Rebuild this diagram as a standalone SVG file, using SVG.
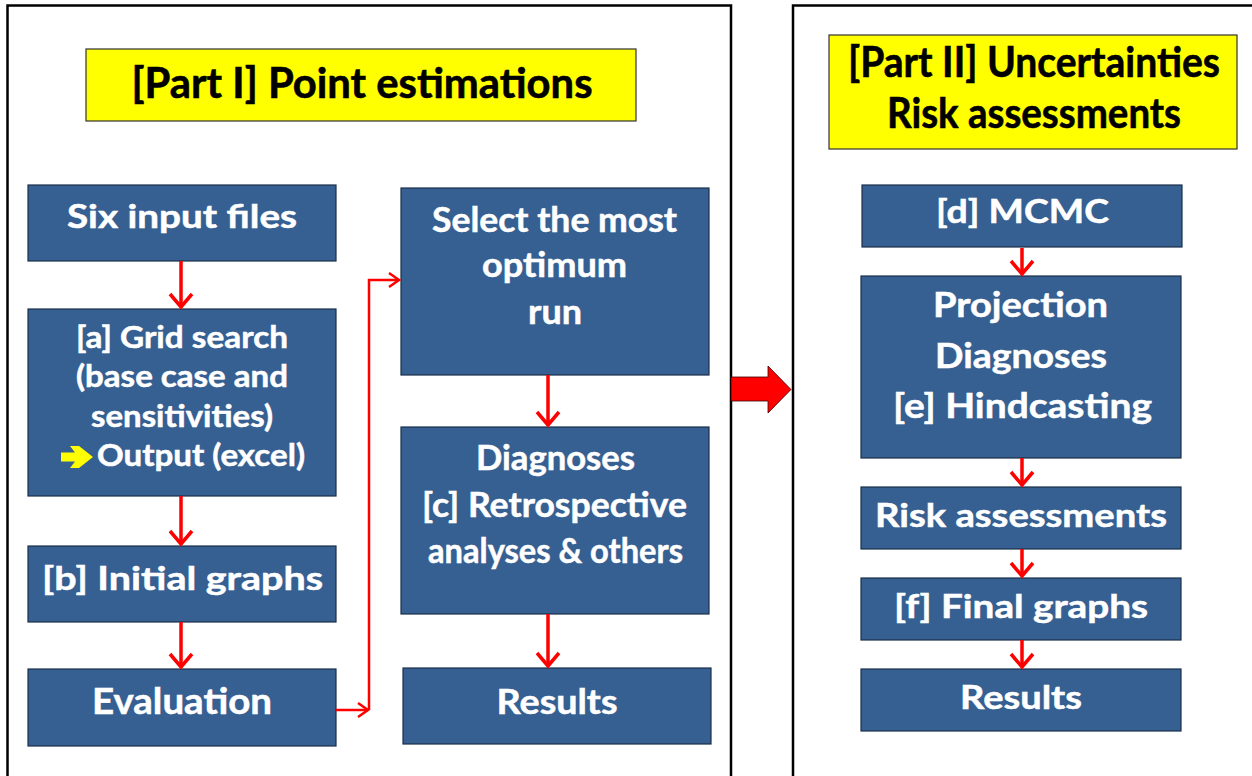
<svg xmlns="http://www.w3.org/2000/svg" width="1252" height="776" viewBox="0 0 1252 776">
<defs>
<style>
.frame{fill:none;stroke:#000;stroke-width:2.5}
.title{fill:#ffff00;stroke:#333;stroke-width:1.2}
.box{fill:#376092;stroke:#1a2f4a;stroke-width:1.2}
.tt{font-family:Lato,"Liberation Sans",sans-serif;font-weight:bold;fill:#000;text-anchor:middle;stroke:#000;stroke-width:0.6}
.bt{font-family:Lato,"Liberation Sans",sans-serif;font-weight:bold;fill:#fff;text-anchor:middle;stroke:#fff;stroke-width:0.5}
.con{fill:none;stroke:#ff0000;stroke-width:3.5}
.thin{fill:none;stroke:#ff0000;stroke-width:2.5}
</style>
<marker id="ah" markerUnits="userSpaceOnUse" markerWidth="18" markerHeight="28" viewBox="0 0 18 28" refX="15" refY="13" orient="auto">
<path d="M2,2 L15,13 L2,24" fill="none" stroke="#ff0000" stroke-width="3.5"/>
</marker>
<marker id="ahs" markerUnits="userSpaceOnUse" markerWidth="14" markerHeight="20" viewBox="0 0 14 20" refX="11" refY="9" orient="auto">
<path d="M1,2 L11,9 L1,16" fill="none" stroke="#ff0000" stroke-width="2.5"/>
</marker>
</defs>
<rect width="1252" height="776" fill="#fff"/>

<g id="frames">
<path class="frame" d="M7.5,790 V5.5 H731 V790"/>
<path class="frame" d="M793,790 V5.5 H1260"/>
</g>

<g id="title1">
<rect class="title" x="86" y="49" width="550" height="72"/>
<text class="tt" x="362" y="98" font-size="42" textLength="461" lengthAdjust="spacingAndGlyphs">[Part I] Point estimations</text>
</g>
<g id="title2">
<rect class="title" x="829" y="35" width="408" height="114"/>
<text class="tt" x="1034" y="77" font-size="42" textLength="372" lengthAdjust="spacingAndGlyphs">[Part II] Uncertainties</text>
<text class="tt" x="1034" y="128" font-size="42" textLength="294" lengthAdjust="spacingAndGlyphs">Risk assessments</text>
</g>

<g id="six">
<rect class="box" x="28" y="185" width="308" height="76"/>
<text class="bt" x="182" y="228" font-size="33" textLength="230" lengthAdjust="spacingAndGlyphs">Six input files</text>
</g>
<g id="grid">
<rect class="box" x="28" y="309" width="308" height="187"/>
<text class="bt" x="182" y="348" font-size="30" textLength="212" lengthAdjust="spacingAndGlyphs">[a] Grid search</text>
<text class="bt" x="182" y="387" font-size="30" textLength="212" lengthAdjust="spacingAndGlyphs">(base case and</text>
<text class="bt" x="182" y="427" font-size="30" textLength="182" lengthAdjust="spacingAndGlyphs">sensitivities)</text>
<path d="M61,452.5 H75 L70,446 H79 L93,457 L79,468 H70 L75,461.5 H61 Z" fill="#ffff00"/>
<text class="bt" x="201" y="466" font-size="30" textLength="208" lengthAdjust="spacingAndGlyphs">Output (excel)</text>
</g>
<g id="initial">
<rect class="box" x="28" y="546" width="308" height="76"/>
<text class="bt" x="182.5" y="590" font-size="33" textLength="281" lengthAdjust="spacingAndGlyphs">[b] Initial graphs</text>
</g>
<g id="evaluation">
<rect class="box" x="28" y="669" width="308" height="77"/>
<text class="bt" x="182" y="714" font-size="36" textLength="180" lengthAdjust="spacingAndGlyphs">Evaluation</text>
</g>

<g id="select">
<rect class="box" x="401" y="188" width="308" height="187"/>
<text class="bt" x="554.5" y="232" font-size="35" textLength="245" lengthAdjust="spacingAndGlyphs">Select the most</text>
<text class="bt" x="554.5" y="277" font-size="35" textLength="145" lengthAdjust="spacingAndGlyphs">optimum</text>
<text class="bt" x="555" y="324" font-size="35" textLength="54" lengthAdjust="spacingAndGlyphs">run</text>
</g>
<g id="diagnoses">
<rect class="box" x="401" y="427" width="308" height="187"/>
<text class="bt" x="555.5" y="470" font-size="34" textLength="159" lengthAdjust="spacingAndGlyphs">Diagnoses</text>
<text class="bt" x="554.5" y="517" font-size="34" textLength="265" lengthAdjust="spacingAndGlyphs">[c] Retrospective</text>
<text class="bt" x="555.5" y="563" font-size="34" textLength="255" lengthAdjust="spacingAndGlyphs">analyses &amp; others</text>
</g>
<g id="results1">
<rect class="box" x="403" y="668" width="308" height="76"/>
<text class="bt" x="557" y="714" font-size="34" textLength="121" lengthAdjust="spacingAndGlyphs">Results</text>
</g>

<g id="mcmc">
<rect class="box" x="862" y="185" width="320" height="62"/>
<text class="bt" x="1022.5" y="223" font-size="33" textLength="173" lengthAdjust="spacingAndGlyphs">[d] MCMC</text>
</g>
<g id="projection">
<rect class="box" x="861" y="276" width="320" height="182"/>
<text class="bt" x="1020.5" y="317" font-size="34" textLength="175" lengthAdjust="spacingAndGlyphs">Projection</text>
<text class="bt" x="1021" y="368" font-size="34" textLength="172" lengthAdjust="spacingAndGlyphs">Diagnoses</text>
<text class="bt" x="1022.5" y="418" font-size="34" textLength="259" lengthAdjust="spacingAndGlyphs">[e] Hindcasting</text>
</g>
<g id="risk">
<rect class="box" x="861" y="487" width="320" height="62"/>
<text class="bt" x="1021" y="527" font-size="33" textLength="292" lengthAdjust="spacingAndGlyphs">Risk assessments</text>
</g>
<g id="final">
<rect class="box" x="861" y="578" width="320" height="62"/>
<text class="bt" x="1021" y="618" font-size="33" textLength="254" lengthAdjust="spacingAndGlyphs">[f] Final graphs</text>
</g>
<g id="results2">
<rect class="box" x="861" y="669" width="320" height="62"/>
<text class="bt" x="1021" y="709" font-size="33" textLength="122" lengthAdjust="spacingAndGlyphs">Results</text>
</g>

<g id="connectors">
<path class="con" d="M181,261 V307" marker-end="url(#ah)"/>
<path class="con" d="M181,496 V544" marker-end="url(#ah)"/>
<path class="con" d="M181,622 V667" marker-end="url(#ah)"/>
<path class="con" d="M548,375 V425" marker-end="url(#ah)"/>
<path class="con" d="M548,614 V666" marker-end="url(#ah)"/>
<path class="con" d="M1022,248 V274" marker-end="url(#ah)"/>
<path class="con" d="M1022,458 V485" marker-end="url(#ah)"/>
<path class="con" d="M1022,549 V576" marker-end="url(#ah)"/>
<path class="con" d="M1022,640 V667" marker-end="url(#ah)"/>
<path class="thin" d="M336,710 H368" marker-end="url(#ahs)"/>
<path class="thin" d="M369,710 V280 H399" marker-end="url(#ahs)"/>
<path d="M731,377 H768 V366 L791,389.5 L768,413 V401 H731 Z" fill="#ff0000" stroke="#3a0000" stroke-width="0.8"/>
</g>
</svg>
